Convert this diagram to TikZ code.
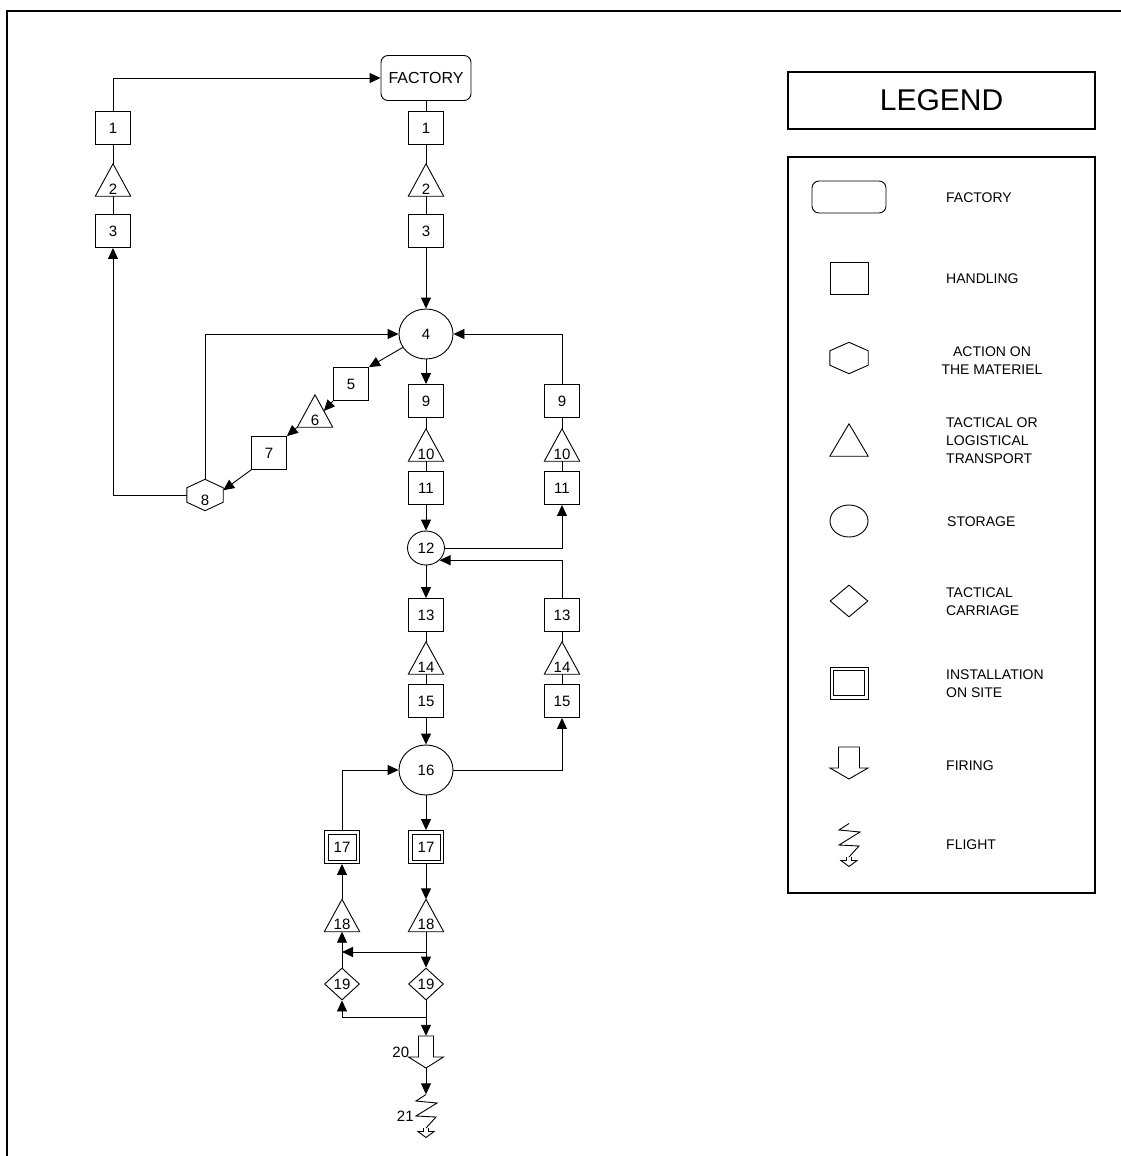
\documentclass[tikz,border=0pt]{standalone}
\usepackage{fontspec}
\setmainfont{Liberation Sans}
\usetikzlibrary{shapes.geometric,arrows.meta,calc}
\tikzset{
  lw/.style={line width=0.9pt},
  arr/.style={line width=0.9pt,-{Triangle[length=11pt,width=10pt]}},
  lnk/.style={line width=0.9pt},
  num/.style={font=\fontsize{15}{17}\selectfont},
  hbox/.style={draw,lw,rectangle,minimum width=35pt,minimum height=33pt,inner sep=0pt,num},
  dbox/.style={draw,lw,rectangle,minimum width=35pt,minimum height=33pt,inner sep=0pt,num,
    append after command={\pgfextra{\edef\tmpn{\tikzlastnode}%
      \draw[lw] ($(\tmpn.north west)+(4,4)$) rectangle ($(\tmpn.south east)+(-4,-4)$);}}},
  ell/.style={draw,lw,ellipse,inner sep=0pt,num},
  dia/.style={draw,lw,diamond,minimum width=35pt,minimum height=32pt,inner sep=0pt,num},
  fact/.style={draw,lw,rectangle,rounded corners=7pt,minimum width=90pt,minimum height=45pt,inner sep=0pt,font=\fontsize{16}{18}\selectfont},
  tri/.style={rectangle,minimum width=35pt,minimum height=32pt,inner sep=0pt,text height=28pt,text depth=0pt,num,
    append after command={\pgfextra{\edef\tmpn{\tikzlastnode}%
      \draw[lw] (\tmpn.north) -- (\tmpn.south west) -- (\tmpn.south east) -- cycle;}}},
  hexa/.style={rectangle,minimum width=36pt,minimum height=31pt,inner sep=0pt,text height=20pt,text depth=0pt,num,
    append after command={\pgfextra{\edef\tmpn{\tikzlastnode}%
      \draw[lw] (\tmpn.north) -- ($(\tmpn.north east)!0.27!(\tmpn.south east)$) -- ($(\tmpn.north east)!0.73!(\tmpn.south east)$) -- (\tmpn.south) -- ($(\tmpn.north west)!0.73!(\tmpn.south west)$) -- ($(\tmpn.north west)!0.27!(\tmpn.south west)$) -- cycle;}}},
  fire/.style 2 args={rectangle,minimum width=35pt,minimum height=32pt,inner sep=0pt,
    append after command={\pgfextra{\edef\tmpn{\tikzlastnode}%
      \draw[lw,shift={(\tmpn.center)}] (-#1,-16) -- (#1,-16) -- (#1,5) -- (#2,5) -- (0,16) -- (-#2,5) -- (-#1,5) -- cycle;}}},
  flight/.style={rectangle,minimum width=22pt,minimum height=43pt,inner sep=0pt,
    append after command={\pgfextra{\edef\tmpn{\tikzlastnode}%
      \draw[lw,shift={(\tmpn.center)}] (0,-21.5) -- (-10,-15) -- (11,-13) -- (-10,0) -- (10,1) -- (0,12);
      \draw[lw,shift={(\tmpn.center)}] (-2.5,12) -- (-2.5,15.5) -- (-8,15.5) -- (0,21.5) -- (8,15.5) -- (2.5,15.5) -- (2.5,12);}}},
  lgtxt/.style={anchor=west,inner sep=0pt,align=left,font=\fontsize{14}{18}\selectfont},
}
\begin{document}
\begin{tikzpicture}[x=1pt,y=-1pt]
\useasboundingbox (0,0) rectangle (1121,1156);
\begin{scope}
\clip (0,0) rectangle (1121,1156);
\draw[line width=2pt] (7,1170) -- (7,11) -- (1130,11);
\end{scope}
% ---------- main diagram nodes
\node[fact] (fac) at (426,78) {FACTORY};
\node[hbox] (M1) at (426,128) {1};
\node[tri] (M2) at (426,180) {2};
\node[hbox] (M3) at (426,231) {3};
\node[hbox] (L1) at (113,128) {1};
\node[tri] (L2) at (113,180) {2};
\node[hbox] (L3) at (113,231) {3};
\node[ell,minimum width=54pt,minimum height=50pt] (c4) at (426,334) {4};
\node[hbox] (b5) at (351,384) {5};
\node[tri] (t6) at (315,411) {6};
\node[hbox] (b7) at (269,453) {7};
\node[hexa] (h8) at (205,495) {8};
\node[hbox] (M9) at (426,401) {9};
\node[tri] (M10) at (426,445) {10};
\node[hbox] (M11) at (426,488) {11};
\node[hbox] (R9) at (562,401) {9};
\node[tri] (R10) at (562,445) {10};
\node[hbox] (R11) at (562,488) {11};
\node[ell,minimum width=37pt,minimum height=34pt] (c12) at (426,548) {12};
\node[hbox] (M13) at (426,615) {13};
\node[tri] (M14) at (426,658) {14};
\node[hbox] (M15) at (426,701) {15};
\node[hbox] (R13) at (562,615) {13};
\node[tri] (R14) at (562,658) {14};
\node[hbox] (R15) at (562,701) {15};
\node[ell,minimum width=54pt,minimum height=50pt] (c16) at (426,770) {16};
\node[dbox] (L17) at (342,847) {17};
\node[dbox] (M17) at (426,847) {17};
\node[tri] (L18) at (342,915.5) {18};
\node[tri] (M18) at (426,915.5) {18};
\node[dia] (L19) at (342,984) {19};
\node[dia] (M19) at (426,984) {19};
\node[fire={7.5}{17.5},label={[num,inner sep=0pt,label distance=-1pt]left:20}] (F20) at (426,1052) {};
\node[flight,label={[num,inner sep=0pt,label distance=1pt]left:21}] (F21) at (426,1116) {};
\coordinate (j1) at (426,952);
\coordinate (j2) at (426,1017);
% ---------- connectors
\draw[arr] (L1.north) |- (fac.west);
\draw[lnk] (fac.south) -- (M1.north) (M1.south) -- (M2.north) (M2.south) -- (M3.north);
\draw[lnk] (L1.south) -- (L2.north) (L2.south) -- (L3.north);
\draw[arr] (M3.south) -- (c4.north);
\draw[arr] (h8.west) -| (L3.south);
\draw[arr] (h8.north) |- (c4.west);
\draw[arr] (c4) -- (b5.north east);
\draw[arr] (b5.south west) -- ($(t6.north)!0.5!(t6.south east)$);
\draw[arr] (t6.south west) -- (b7.north east);
\draw[arr] (b7.south west) -- ($(h8.north east)!0.35!(h8.south east)$);
\draw[arr] (R9.north) |- (c4.east);
\draw[arr] (c4.south) -- (M9.north);
\draw[lnk] (M9.south) -- (M10.north) (M10.south) -- (M11.north);
\draw[lnk] (R9.south) -- (R10.north) (R10.south) -- (R11.north);
\draw[arr] (M11.south) -- (c12.north);
\draw[arr] (c12.east) -| (R11.south);
\draw[arr] (R13.north) |- (c12.-42);
\draw[arr] (c12.south) -- (M13.north);
\draw[lnk] (M13.south) -- (M14.north) (M14.south) -- (M15.north);
\draw[lnk] (R13.south) -- (R14.north) (R14.south) -- (R15.north);
\draw[arr] (M15.south) -- (c16.north);
\draw[arr] (c16.east) -| (R15.south);
\draw[arr] (L17.north) |- (c16.west);
\draw[arr] (c16.south) -- (M17.north);
\draw[arr] (M17.south) -- (M18.north);
\draw[arr] (L18.north) -- (L17.south);
\draw[arr] (M18.south) -- (M19.north);
\draw[arr] (j1) -- (j1 -| L18.south);
\draw[arr] (L19.north) -- (L18.south);
\draw[arr] (M19.south) -- (F20.north);
\draw[arr] (j2) -| (L19.south);
\draw[arr] (F20.south) -- (F21.north);
% ---------- legend
\node[draw,line width=1.5pt,minimum width=307pt,minimum height=57pt,inner sep=0pt,font=\fontsize{30}{33}\selectfont] (lgtitle) at (941.5,100.5) {LEGEND};
\draw[line width=1.8pt] (788,157) rectangle (1095,893);
\node[fact,minimum width=74pt,minimum height=32pt] (lgfac) at (849,197) {};
\node[hbox,minimum width=38pt,minimum height=32pt] (lghand) at (849,278) {};
\node[hexa,minimum width=38pt] (lghex) at (849,358) {};
\node[tri,minimum width=38pt] (lgtri) at (849,440) {};
\node[ell,minimum width=38pt,minimum height=32pt] (lgsto) at (849,521) {};
\node[dia,minimum width=38pt,minimum height=32pt] (lgdia) at (849,601) {};
\node[dbox,minimum width=38pt,minimum height=32pt] (lgins) at (849,683) {};
\node[fire={10.5}{19}] (lgfire) at (849,763) {};
\node[flight] (lgflight) at (849,845) {};
\node[lgtxt] (tx1) at (946,198) {FACTORY};
\node[lgtxt] (tx2) at (946,279) {HANDLING};
\node[lgtxt,anchor=center,align=center] (tx3) at (992,361) {ACTION ON\\THE MATERIEL};
\node[lgtxt] (tx4) at (946,441) {TACTICAL OR\\LOGISTICAL\\TRANSPORT};
\node[lgtxt] (tx5) at (947,522) {STORAGE};
\node[lgtxt] (tx6) at (946,602) {TACTICAL\\CARRIAGE};
\node[lgtxt] (tx7) at (946,684) {INSTALLATION\\ON SITE};
\node[lgtxt] (tx8) at (946,766) {FIRING};
\node[lgtxt] (tx9) at (946,845) {FLIGHT};
\end{tikzpicture}
\end{document}
